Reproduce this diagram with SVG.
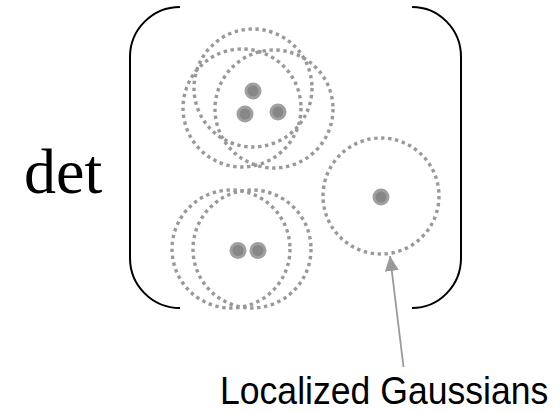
<svg xmlns="http://www.w3.org/2000/svg" width="560" height="412" viewBox="0 0 560 412">
<defs>
<style>
.g{fill:none;stroke:#999;stroke-width:3.4;stroke-dasharray:3.4 3.6}
.br{fill:none;stroke:#000;stroke-width:2}
.eo{fill:#a0a0a0}
.ei{fill:#878787}
.lbl{font-family:"Liberation Sans",Arial,sans-serif;font-size:35.6px;fill:#000}
.det{font-family:"Liberation Serif","Times New Roman",serif;font-size:64px;fill:#000}
</style>
<marker id="ah" markerUnits="userSpaceOnUse" markerWidth="16" markerHeight="14" refX="15" refY="7" orient="auto">
<path d="M0,0 L15,7 L0,14 z" fill="#999"/>
</marker>
</defs>
<rect width="560" height="412" fill="#fff"/>
<text class="det" x="24" y="193">det</text>
<g id="brackets">
<path class="br" d="M180,7 A50,50 0 0 0 130,57 L130,258 A50,50 0 0 0 180,308"/>
<path class="br" d="M412,7 A49,50 0 0 1 461,57 L461,258 A49,50 0 0 1 412,308"/>
</g>
<g id="cluster3">
<circle class="g" cx="253" cy="88" r="59"/>
<circle class="g" cx="242" cy="108" r="59"/>
<circle class="g" cx="274" cy="109" r="59"/>
<circle class="eo" cx="253" cy="91" r="8.5"/><circle class="ei" cx="253" cy="91" r="5.5"/>
<circle class="eo" cx="245" cy="114" r="8.5"/><circle class="ei" cx="245" cy="114" r="5.5"/>
<circle class="eo" cx="278" cy="112" r="8.5"/><circle class="ei" cx="278" cy="112" r="5.5"/>
</g>
<g id="cluster2">
<circle class="g" cx="231" cy="249" r="59"/>
<circle class="g" cx="252" cy="249" r="59"/>
<circle class="eo" cx="238" cy="250.5" r="8.5"/><circle class="ei" cx="238" cy="250.5" r="5.5"/>
<circle class="eo" cx="258" cy="250.5" r="8.5"/><circle class="ei" cx="258" cy="250.5" r="5.5"/>
</g>
<g id="cluster1">
<circle class="g" cx="381" cy="196" r="58"/>
<circle class="eo" cx="381" cy="197" r="8.5"/><circle class="ei" cx="381" cy="197" r="5.5"/>
</g>
<g id="connectors">
<line x1="403.5" y1="367" x2="390" y2="256" stroke="#999" stroke-width="1.8" marker-end="url(#ah)"/>
</g>
<g id="label">
<text class="lbl" transform="translate(220,404) scale(1,1.1)">Localized Gaussians</text>
</g>
</svg>
